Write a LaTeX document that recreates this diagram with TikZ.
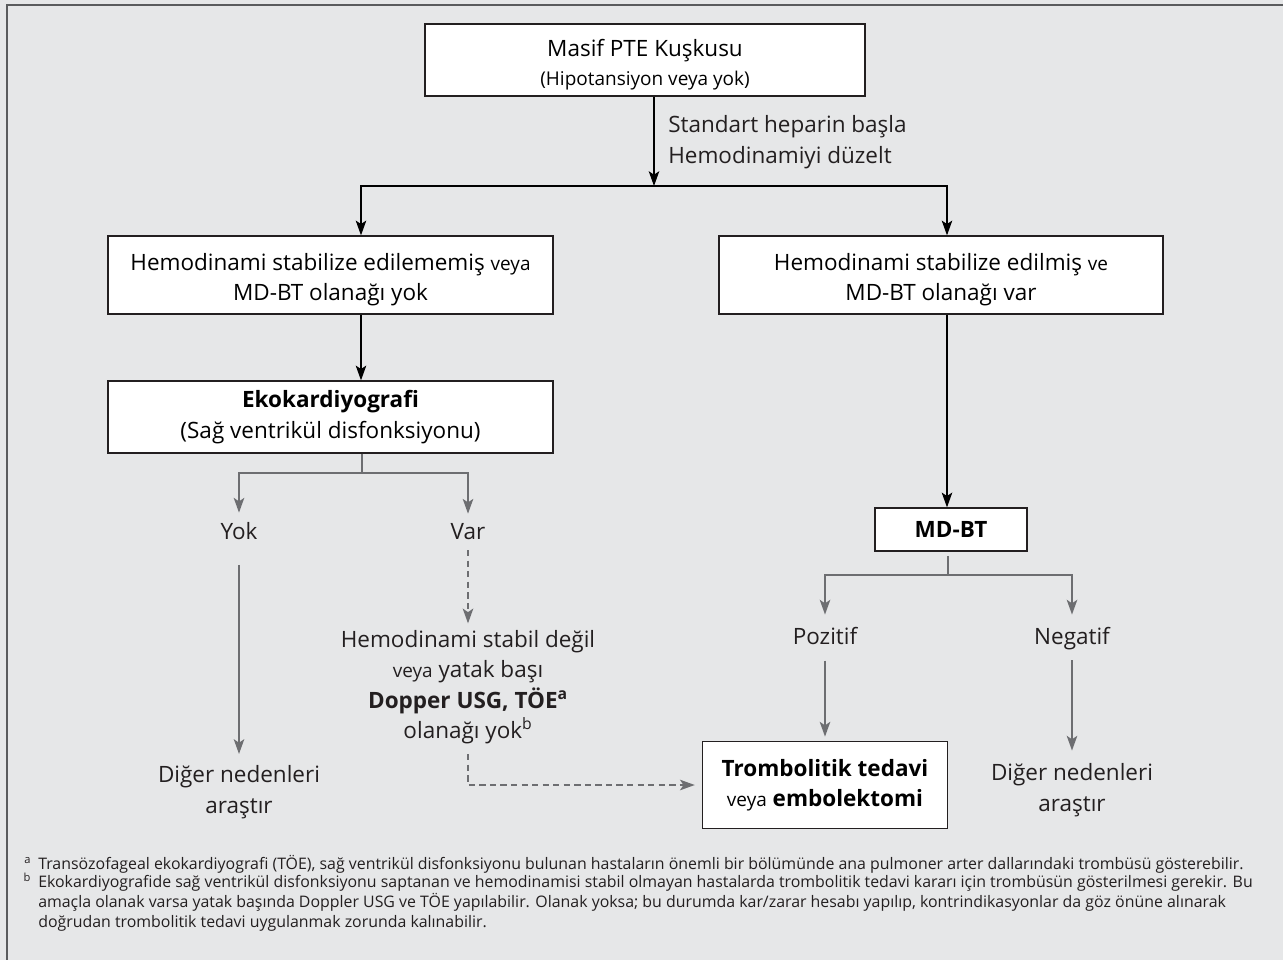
\documentclass[tikz,border=0pt]{standalone}
\usepackage{fontspec}
\setmainfont{Open Sans}
\usepackage{tikz}
\usetikzlibrary{arrows.meta,positioning}

\definecolor{panelbg}{HTML}{E6E7E8}
\definecolor{framegray}{HTML}{5A5B5D}
\definecolor{boxline}{HTML}{231F20}
\definecolor{flowgray}{HTML}{6D6E71}

\newcommand{\mainsz}{\fontsize{16}{21.7}\selectfont}
\newcommand{\smallsz}{\fontsize{13.5}{21.7}\selectfont}
\newcommand{\footsz}{\fontsize{11.3}{14.2}\selectfont}
\newcommand{\topgap}{\rule{0pt}{19pt}}

\tikzset{
  box/.style={draw=boxline, fill=white, line width=0.95pt, align=center, inner sep=0pt},
  lbl/.style={align=center, inner sep=0pt, text=boxline},
  barrow/.style={->, line width=0.75pt, draw=black},
  gline/.style={line width=1.1pt, draw=flowgray},
  garrow/.style={gline, ->},
  gdash/.style={gline, ->, dash pattern=on 4.5pt off 3pt},
  foot/.style={align=left, inner sep=0pt, font=\footsz, text=boxline},
}

\begin{document}
\begin{tikzpicture}[x=0.025cm, y=-0.025cm, >={Stealth[length=10.5pt,width=7.5pt,inset=2.5pt]}, font=\mainsz]
  % Panel
  \fill[panelbg] (0,0) rectangle (1283,960);
  \useasboundingbox (0,0) rectangle (1283,960);
  \draw[framegray, line width=1.4pt] (6.7,960) -- (6.7,4.7) -- (1283,4.7);

  % Boxes
  \node[box, minimum width=11cm, minimum height=1.8cm] (suspect) at (645,60)
    {\topgap Masif PTE Kuşkusu\\[-1pt]{\smallsz (Hipotansiyon veya yok)}};
  \node[box, minimum width=11.125cm, minimum height=1.95cm] (unstable) at (330.5,275)
    {\topgap Hemodinami stabilize edilememiş {\smallsz veya}\\MD-BT olanağı yok};
  \node[box, minimum width=11.1cm, minimum height=1.95cm] (stable) at (941,275)
    {\topgap Hemodinami stabilize edilmiş {\smallsz ve}\\MD-BT olanağı var};
  \node[box, minimum width=11.125cm, minimum height=1.8cm] (echo) at (330.5,417)
    {\textbf{Ekokardiyografi}\\(Sağ ventrikül disfonksiyonu)};
  \node[box, minimum width=3.8cm, minimum height=1.075cm] (ct) at (951,529.5)
    {\textbf{MD-BT}};
  \node[box, minimum width=6.125cm, minimum height=2.175cm] (lysis) at (825,785)
    {\textbf{Trombolitik tedavi}\\{\smallsz veya} \textbf{embolektomi}};

  % Labels
  \node[lbl, align=left, anchor=west] (heparin) at (668,142)
    {Standart heparin başla\\Hemodinamiyi düzelt};
  \foreach \name/\x/\txt in {rvno/239/Yok, rvyes/468/Var}{
    \node[lbl, anchor=base] (\name) at (\x,539) {\txt};
  }
  \foreach \name/\x/\txt in {pos/825/Pozitif, neg/1072/Negatif}{
    \node[lbl, anchor=base] (\name) at (\x,644) {\txt};
  }
  \node[lbl] (otherL) at (239,792) {Diğer nedenleri\\araştır};
  \node[lbl] (otherR) at (1072,790) {Diğer nedenleri\\araştır};
  \node[lbl] (noecho) at (468,687)
    {Hemodinami stabil değil\\{\smallsz veya} yatak başı\\
     \textbf{Dopper USG, TÖE\textsuperscript{a}}\\olanağı yok\textsuperscript{b}};

  % Main flow
  \coordinate (fork) at (654,186);
  \coordinate (leftcol) at (361,0);
  \coordinate (rightcol) at (947,0);
  \draw[barrow] (suspect.south -| fork) -- (fork);
  \draw[barrow] (fork) -| (unstable.north -| leftcol);
  \draw[barrow] (fork) -| (stable.north -| rightcol);
  \draw[barrow] (unstable.south -| leftcol) -- (echo.north -| leftcol);
  \draw[barrow] (stable.south -| rightcol) -- (ct.north -| rightcol);

  % Echo branches
  \coordinate (echofork) at (362,473);
  \draw[gline] (echo.south -| echofork) -- (echofork);
  \draw[garrow, shorten >=6.4pt] (echofork) -| (rvno);
  \draw[garrow, shorten >=6.4pt] (echofork) -| (rvyes);
  \draw[garrow, shorten <=18pt, shorten >=8pt] (rvno) -- (otherL);
  \draw[gdash, shorten <=7.5pt, shorten >=4.5pt] (rvyes) -- (noecho);
  \draw[gdash, shorten <=7pt, shorten >=5pt] (noecho) |- (lysis);

  % CT branches
  \coordinate (ctfork) at (948,575);
  \draw[gline, shorten <=3pt] (ct.south -| ctfork) -- (ctfork);
  \draw[garrow, shorten >=8.5pt] (ctfork) -| (pos);
  \draw[garrow, shorten >=8.5pt] (ctfork) -| (neg);
  \draw[garrow, shorten <=11.4pt, shorten >=3pt] (pos) -- (lysis);
  \draw[garrow, shorten <=7.4pt, shorten >=9pt] (neg) -- (otherR);

  % Footnotes
  \node[foot, anchor=north west] (fna) at (38,855)
    {\llap{\smash{\textsuperscript{a}}\hspace{5pt}}Transözofageal ekokardiyografi (TÖE), sağ ventrikül disfonksiyonu bulunan hastaların önemli bir bölümünde ana pulmoner arter dallarındaki trombüsü gösterebilir.};
  \node[foot, anchor=north west] (fnb) at (38,875)
    {\llap{\smash{\textsuperscript{b}}\hspace{5pt}}Ekokardiyografide sağ ventrikül disfonksiyonu saptanan ve hemodinamisi stabil olmayan hastalarda trombolitik tedavi kararı için trombüsün gösterilmesi gerekir. Bu\\
     amaçla olanak varsa yatak başında Doppler USG ve TÖE yapılabilir. Olanak yoksa; bu durumda kar/zarar hesabı yapılıp, kontrindikasyonlar da göz önüne alınarak\\
     doğrudan trombolitik tedavi uygulanmak zorunda kalınabilir.};
\end{tikzpicture}
\end{document}
